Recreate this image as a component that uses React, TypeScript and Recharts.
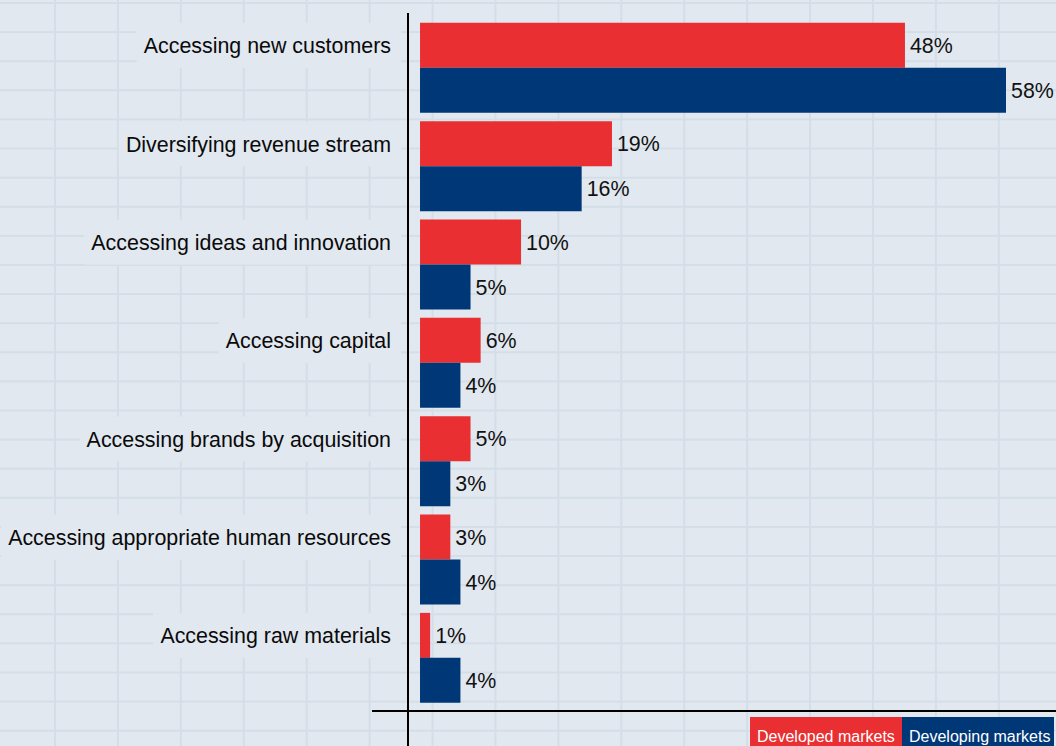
import React from 'react';
import { BarChart, Bar, XAxis, YAxis, LabelList, Legend, Customized } from 'recharts';

const categories = [
  'Accessing new customers',
  'Diversifying revenue stream',
  'Accessing ideas and innovation',
  'Accessing capital',
  'Accessing brands by acquisition',
  'Accessing appropriate human resources',
  'Accessing raw materials',
];
const developed = [48, 19, 10, 6, 5, 3, 1];
const developing = [58, 16, 5, 4, 3, 4, 4];
const seriesNames = ['Developed markets', 'Developing markets'];

const data = categories.map((name, i) => ({ name, developed: developed[i], developing: developing[i] }));

const W = 1056;
const H = 746;
const AXIS_X = 408;
const BAR = 45;
const RED = '#e92f31';
const BLUE = '#003777';
const BG = '#e1e8ef';
const FONT = '"Liberation Sans", Arial, sans-serif';
const FS = 21.4;

let measureCtx: CanvasRenderingContext2D | null = null;
const textWidth = (s: string, font: string) => {
  if (!measureCtx) measureCtx = document.createElement('canvas').getContext('2d');
  if (!measureCtx) return s.length * 10;
  measureCtx.font = font;
  return measureCtx.measureText(s).width;
};

// label sits on the first (red) bar of each group, with a plain box hiding the grid
const CategoryTick = (props: any) => {
  const { x, y, payload } = props;
  const cy = y - BAR / 2;
  const w = textWidth(payload.value, `${FS}px ${FONT}`);
  return (
    <g>
      <rect x={x - w - 7} y={cy - BAR / 2} width={w + 17} height={BAR} fill={BG} />
      <text x={x} y={cy} dy="0.37em" textAnchor="end" fontSize={FS} fill="#0a0a0a" fontFamily={FONT}>
        {payload.value}
      </text>
    </g>
  );
};

const LegendBoxes = () => (
  <div style={{ display: 'flex', fontFamily: FONT, fontSize: 16, color: '#fff' }}>
    {seriesNames.map((n, i) => (
      <div
        key={n}
        style={{
          width: 152,
          height: 29,
          boxSizing: 'border-box',
          paddingTop: 11,
          paddingLeft: 7,
          background: i === 0 ? RED : BLUE,
          whiteSpace: 'nowrap',
          overflow: 'hidden',
        }}
      >
        {n}
      </div>
    ))}
  </div>
);

const BaseLine = () => (
  <line x1={AXIS_X - 36} y1={711} x2={W} y2={711} stroke="#000" strokeWidth={2} />
);

const valueLabel = { fontSize: FS, fill: '#111', fontFamily: FONT };

export default function App() {
  return (
    <div
      style={{
        position: 'absolute',
        left: 0,
        top: 0,
        width: W,
        height: H,
        overflow: 'hidden',
        backgroundColor: BG,
        backgroundImage:
          'linear-gradient(to right, #d4dee8 2px, transparent 2px), linear-gradient(to bottom, #d4dee8 2px, transparent 2px)',
        backgroundSize: '62.93px 29.12px',
        backgroundPosition: '-8.93px 2px',
        fontFamily: FONT,
      }}
    >
      <BarChart
        width={W}
        height={H}
        data={data}
        layout="vertical"
        margin={{ top: 13, right: 0, bottom: 0, left: 0 }}
        barGap={0}
        barSize={BAR}
      >
        <XAxis type="number" domain={[-1.19, 62.95]} allowDataOverflow hide />
        <YAxis
          type="category"
          dataKey="name"
          width={AXIS_X}
          padding={{ top: 5.83, bottom: 38.8 }}
          axisLine={{ stroke: '#000', strokeWidth: 2 }}
          tickLine={false}
          tickSize={0}
          tickMargin={17}
          interval={0}
          tick={<CategoryTick />}
        />
        <Bar dataKey="developed" name={seriesNames[0]} fill={RED} isAnimationActive={false}>
          <LabelList
            dataKey="developed"
            position="right"
            offset={5}
            formatter={(v: any) => `${v}%`}
            style={valueLabel}
          />
        </Bar>
        <Bar dataKey="developing" name={seriesNames[1]} fill={BLUE} isAnimationActive={false}>
          <LabelList
            dataKey="developing"
            position="right"
            offset={5}
            formatter={(v: any) => `${v}%`}
            style={valueLabel}
          />
        </Bar>
        <Customized component={BaseLine} />
        <Legend
          layout="horizontal"
          align="center"
          verticalAlign="middle"
          content={<LegendBoxes />}
          wrapperStyle={{ left: 750, top: 717, width: 304, height: 29 }}
        />
      </BarChart>
    </div>
  );
}
